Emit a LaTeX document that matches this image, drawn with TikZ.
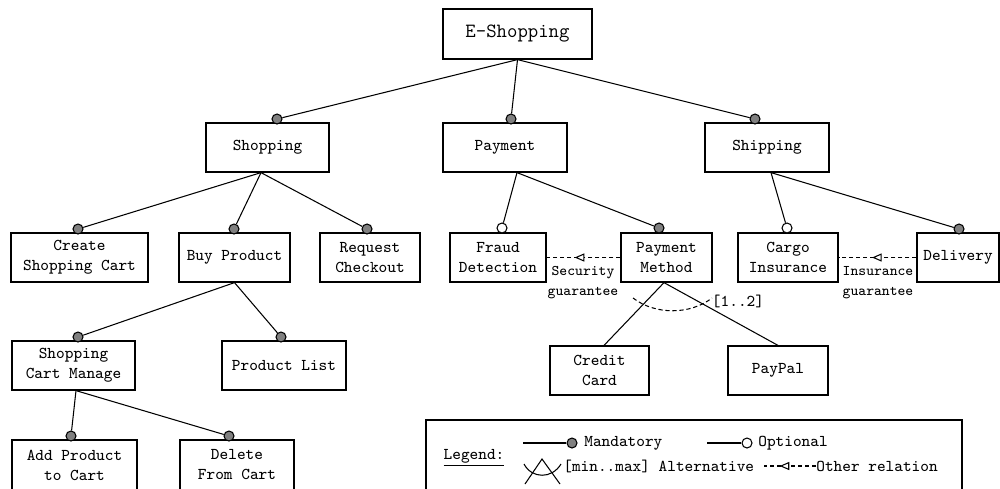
\documentclass[tikz,border=0pt]{standalone}
\usepackage{fontspec}
\usetikzlibrary{arrows.meta,decorations.markings}
\definecolor{dotgray}{RGB}{128,128,128}
\tikzset{
  feature/.style={
    draw=black,
    line width=0.7pt,
    align=center,
    minimum height=0.98cm,
    inner sep=0pt
  },
  dot-mand/.style={circle, line width=0.6pt, fill=dotgray, draw=black, minimum size=0.2cm, inner sep=0pt},
  dot-opt/.style={circle, line width=0.6pt, fill=white, draw=black, minimum size=0.2cm, inner sep=0pt},
  edge/.style={line width=0.6pt},
  rel-dashed/.style={
    line width=0.6pt,
    dash pattern=on 2.4pt off 1.6pt,
    postaction={decorate},
    decoration={markings, mark=at position #1 with {\arrow{Triangle[fill=white, length=5.5pt, width=4.6pt]}}}
  },
  rel-dashed/.default=0.5,
  rel-label/.style={align=center, font=\ttfamily\fontsize{8.4}{11.4}\selectfont, inner sep=0pt},
  legend-text/.style={anchor=west, inner sep=0pt}
}

\begin{document}
\begin{tikzpicture}[x=0.02cm, y=-0.02cm, font=\ttfamily\fontsize{9.4}{11.4}\selectfont]
  \useasboundingbox (0,0) rectangle (1000,488);

  % Root
  \node[feature, minimum width=2.98cm, minimum height=1cm, font=\ttfamily\fontsize{11.5}{14}\selectfont] (eshop) at (517.5,34) {E-Shopping};

  % Level 1
  \node[feature, minimum width=2.46cm] (shopping) at (267.5,147.5) {Shopping};
  \node[feature, minimum width=2.48cm] (payment) at (505,147.5) {Payment};
  \node[feature, minimum width=2.48cm] (shipping) at (767,147.5) {Shipping};

  % Level 2
  \node[feature, minimum width=2.74cm] (create) at (79.5,257.5) {Create\\Shopping Cart};
  \node[feature, minimum width=2.22cm] (buy) at (234.5,257.5) {Buy Product};
  \node[feature, minimum width=2.0cm] (request) at (370,257.5) {Request\\Checkout};
  \node[feature, minimum width=1.92cm] (fraud) at (498,257.5) {Fraud\\Detection};
  \node[feature, minimum width=1.82cm] (paymethod) at (666.5,257.5) {Payment\\Method};
  \node[feature, minimum width=2.0cm] (cargo) at (788,257.5) {Cargo\\Insurance};
  \node[feature, minimum width=1.64cm] (delivery) at (958,257.5) {Delivery};

  % Level 3
  \node[feature, minimum width=2.46cm] (cartmanage) at (73.5,365.5) {Shopping\\Cart Manage};
  \node[feature, minimum width=2.48cm] (productlist) at (284,365.5) {Product List};
  \node[feature, minimum width=1.98cm] (creditcard) at (599.5,370.5) {Credit\\Card};
  \node[feature, minimum width=2.0cm] (paypal) at (778,370.5) {PayPal};

  % Level 4
  \node[feature, minimum width=2.5cm, minimum height=1cm] (addproduct) at (74.5,465) {Add Product\\to Cart};
  \node[feature, minimum width=2.28cm, minimum height=1cm] (delete) at (237,465) {Delete\\From Cart};

  % Dots on the children
  \node[dot-mand] (d-shopping) at (277,119) {};
  \node[dot-mand] (d-payment) at (511,119) {};
  \node[dot-mand] (d-shipping) at (755,119) {};
  \node[dot-mand] (d-create) at (78,229) {};
  \node[dot-mand] (d-buy) at (234,229) {};
  \node[dot-mand] (d-request) at (367,229) {};
  \node[dot-opt] (d-fraud) at (502,228) {};
  \node[dot-mand] (d-paymethod) at (659,228) {};
  \node[dot-opt] (d-cargo) at (787,228) {};
  \node[dot-mand] (d-delivery) at (959,229) {};
  \node[dot-mand] (d-cartmanage) at (78,337) {};
  \node[dot-mand] (d-productlist) at (281,337) {};
  \node[dot-mand] (d-addproduct) at (71,436) {};
  \node[dot-mand] (d-delete) at (229,436) {};

  % Tree edges
  \draw[edge] (eshop.south) -- (d-shopping);
  \draw[edge] (eshop.south) -- (d-payment);
  \draw[edge] (eshop.south) -- (d-shipping);
  \draw[edge] ([xshift=-0.13cm]shopping.south) -- (d-create);
  \draw[edge] ([xshift=-0.13cm]shopping.south) -- (d-buy);
  \draw[edge] ([xshift=-0.13cm]shopping.south) -- (d-request);
  \draw[edge] ([xshift=0.24cm]payment.south) -- (d-fraud);
  \draw[edge] ([xshift=0.24cm]payment.south) -- (d-paymethod);
  \draw[edge] ([xshift=0.08cm]shipping.south) -- (d-cargo);
  \draw[edge] ([xshift=0.08cm]shipping.south) -- (d-delivery);
  \draw[edge] (buy.south) -- (d-cartmanage);
  \draw[edge] (buy.south) -- (d-productlist);
  \draw[edge] ([xshift=0.05cm]cartmanage.south) -- (d-addproduct);
  \draw[edge] ([xshift=0.05cm]cartmanage.south) -- (d-delete);
  \draw[edge] ([xshift=-0.05cm]paymethod.south) -- ([xshift=0.09cm]creditcard.north);
  \draw[edge] ([xshift=-0.05cm]paymethod.south) -- (paypal.north);

  % Alternative group
  \draw[edge, dash pattern=on 2.4pt off 1.6pt] (633,298) .. controls (655,315) and (690,315) .. (712,298);
  \node[inner sep=0pt] (alt-card) at (738,301) {[1..2]};

  % Other relations
  \draw[rel-dashed=0.62] (paymethod.west) -- (fraud.east);
  \node[rel-label] (rel-security) at (583,283) {Security\\guarantee};
  \draw[rel-dashed=0.57] (delivery.west) -- (cargo.east);
  \node[rel-label] (rel-insurance) at (878,283) {Insurance\\guarantee};

  % Legend
  \node[draw, line width=0.7pt, minimum width=10.72cm, minimum height=1.6cm, inner sep=0pt] (legend) at (694,460) {};
  \node[inner sep=0pt] (leg-title) at (474,458) {\underline{Legend:}};
  \coordinate (leg-m) at (523,443);
  \node[dot-mand] (leg-md) at (572,443) {};
  \draw[edge] (leg-m) -- (leg-md);
  \node[legend-text] (leg-mt) at (584,443) {Mandatory};
  \coordinate (leg-o) at (707,443);
  \node[dot-opt] (leg-od) at (747,443) {};
  \draw[edge] (leg-o) -- (leg-od);
  \node[legend-text] (leg-ot) at (758,443) {Optional};
  \draw[edge] (525,484) -- (542,459) -- (560,484);
  \draw[edge] (524,464) .. controls (532,479) and (552,479) .. (561,464);
  \node[legend-text] (leg-at) at (563,466) {[min..max] Alternative};
  \coordinate (leg-r1) at (816,466);
  \coordinate (leg-r2) at (764,466);
  \draw[rel-dashed=0.7] (leg-r1) -- (leg-r2);
  \node[legend-text] (leg-rt) at (816,466) {Other relation};
\end{tikzpicture}
\end{document}
